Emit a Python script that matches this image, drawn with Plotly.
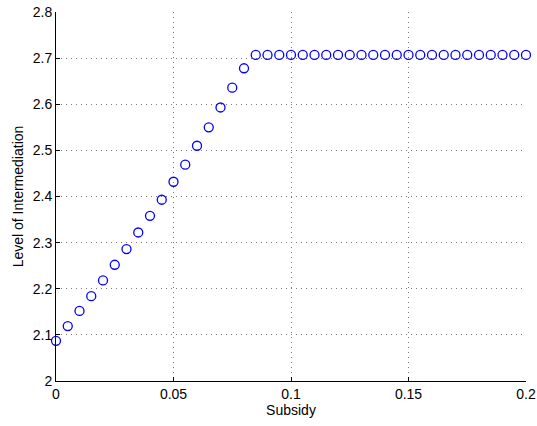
import plotly.graph_objects as go

subsidy = [round(0.005 * i, 3) for i in range(41)]
intermediation = [2.087, 2.119, 2.152, 2.184, 2.218, 2.252, 2.286, 2.322, 2.358, 2.393,
                  2.432, 2.469, 2.510, 2.550, 2.593, 2.636, 2.678] + [2.707] * 24

x_ticks = [0, 0.05, 0.1, 0.15, 0.2]
x_tick_labels = ["0", "0.05", "0.1", "0.15", "0.2"]
y_ticks = [2.0, 2.1, 2.2, 2.3, 2.4, 2.5, 2.6, 2.7, 2.8]
y_tick_labels = ["2", "2.1", "2.2", "2.3", "2.4", "2.5", "2.6", "2.7", "2.8"]

fig = go.Figure(go.Scatter(
    x=subsidy, y=intermediation, mode="markers",
    marker=dict(symbol="circle-open", size=9, color="#0000ff", line=dict(width=1.3, color="#0000ff")),
    cliponaxis=False,
))

axis_common = dict(
    showline=True, linecolor="black", linewidth=1, mirror=False,
    ticks="inside", ticklen=4, tickcolor="black", tickwidth=1,
    showgrid=True, gridcolor="#7a7a7a", griddash="1px,4px", gridwidth=1,
    zeroline=False, tickfont=dict(size=14, color="black"), automargin=False,
)

fig.update_xaxes(range=[0, 0.2], tickvals=x_ticks, ticktext=x_tick_labels,
                 title=dict(text="Subsidy", font=dict(size=14, color="black"), standoff=2),
                 **axis_common)
fig.update_yaxes(range=[2, 2.8], tickvals=y_ticks, ticktext=y_tick_labels,
                 title=dict(text="Level of Intermediation", font=dict(size=14, color="black"), standoff=5),
                 **axis_common)

fig.update_layout(
    width=537, height=426,
    margin=dict(l=56, r=11, t=12, b=45, autoexpand=False),
    paper_bgcolor="white", plot_bgcolor="white",
    font=dict(family="Liberation Sans, Arial, sans-serif", size=14, color="black"),
    showlegend=False,
)

fig.write_html("out.html", config={"displayModeBar": False},
               post_script="document.body.style.margin='0';document.body.style.overflow='hidden';")
